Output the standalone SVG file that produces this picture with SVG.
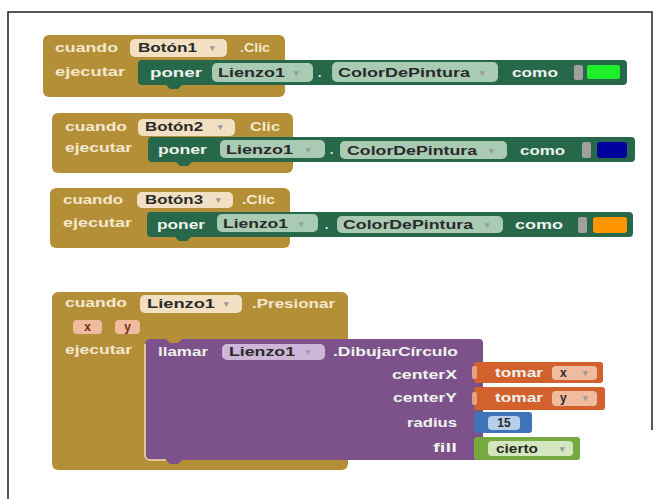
<svg xmlns="http://www.w3.org/2000/svg" width="660" height="499" viewBox="0 0 660 499">
<style>
text{font-family:"Liberation Sans",Arial,sans-serif;font-size:12px;font-weight:bold}
.ev{fill:#b48f38}
.set{fill:#28684a}
.pur{fill:#7d5189}
.org{fill:#d2612e}
.blu{fill:#3f72b6}
.lgc{fill:#76aa40}
.lt{fill:#f4e8cc}
.wt{fill:#eef3ee}
.dk{fill:#2a2a2a}
.arw{fill:#9a9a9a;font-size:9px}
.fo{fill:#f3e0c2}
.fg{fill:#a9cbb4}
.fp{fill:#cdb6d8}
.fr{fill:#f1bb9f}
.fb{fill:#b8cfe9}
.fl{fill:#d3e6bd}
.nub{fill:#a0a0a0}
.frame{fill:none;stroke:#222;stroke-width:1.5}
</style>
<path class="frame" d="M8,499 V12 H652 V430"/>

<g id="block1">
<rect class="ev" x="43" y="35" width="242" height="62" rx="6"/>
<text class="lt" x="55" y="52" textLength="63" lengthAdjust="spacingAndGlyphs">cuando</text>
<rect class="fo" x="130" y="39" width="97" height="18" rx="5"/>
<text class="dk" x="138" y="52" textLength="59" lengthAdjust="spacingAndGlyphs">Botón1</text>
<text class="arw" x="210" y="51">▾</text>
<text class="lt" x="240" y="52" textLength="30" lengthAdjust="spacingAndGlyphs">.Clic</text>
<text class="lt" x="55" y="76" textLength="70" lengthAdjust="spacingAndGlyphs">ejecutar</text>
<path class="set" d="M142,60 H623 a4,4 0 0 1 4,4 V81 a4,4 0 0 1 -4,4 H182 l-4,4 h-8 l-4,-4 H142 a4,4 0 0 1 -4,-4 V64 a4,4 0 0 1 4,-4 Z"/>
<text class="wt" x="150" y="77" textLength="52" lengthAdjust="spacingAndGlyphs">poner</text>
<rect class="fg" x="212" y="63" width="101" height="19" rx="5"/>
<text class="dk" x="218" y="77" textLength="67" lengthAdjust="spacingAndGlyphs">Lienzo1</text>
<text class="arw" x="294" y="76">▾</text>
<text class="wt" x="318" y="77">.</text>
<rect class="fg" x="332" y="62" width="166" height="20" rx="5"/>
<text class="dk" x="338" y="77" textLength="132" lengthAdjust="spacingAndGlyphs">ColorDePintura</text>
<text class="arw" x="480" y="76">▾</text>
<text class="wt" x="512" y="77" textLength="46" lengthAdjust="spacingAndGlyphs">como</text>
<rect class="nub" x="574" y="65" width="9" height="15" rx="2"/>
<rect x="587" y="65" width="33" height="14" rx="2" fill="#1fee2a"/>
</g>

<g id="block2">
<rect class="ev" x="52" y="113" width="241" height="60" rx="6"/>
<text class="lt" x="65" y="131" textLength="62" lengthAdjust="spacingAndGlyphs">cuando</text>
<rect class="fo" x="138" y="119" width="97" height="17" rx="5"/>
<text class="dk" x="145" y="131" textLength="58" lengthAdjust="spacingAndGlyphs">Botón2</text>
<text class="arw" x="218" y="130">▾</text>
<text class="lt" x="250" y="131" textLength="30" lengthAdjust="spacingAndGlyphs">Clic</text>
<text class="lt" x="65" y="152" textLength="67" lengthAdjust="spacingAndGlyphs">ejecutar</text>
<path class="set" d="M152,137 H631 a4,4 0 0 1 4,4 V158 a4,4 0 0 1 -4,4 H192 l-4,4 h-8 l-4,-4 H152 a4,4 0 0 1 -4,-4 V141 a4,4 0 0 1 4,-4 Z"/>
<text class="wt" x="158" y="154" textLength="49" lengthAdjust="spacingAndGlyphs">poner</text>
<rect class="fg" x="220" y="140" width="105" height="18" rx="5"/>
<text class="dk" x="226" y="154" textLength="67" lengthAdjust="spacingAndGlyphs">Lienzo1</text>
<text class="arw" x="306" y="153">▾</text>
<text class="wt" x="330" y="154">.</text>
<rect class="fg" x="340" y="141" width="167" height="18" rx="5"/>
<text class="dk" x="347" y="155" textLength="130" lengthAdjust="spacingAndGlyphs">ColorDePintura</text>
<text class="arw" x="489" y="154">▾</text>
<text class="wt" x="520" y="155" textLength="45" lengthAdjust="spacingAndGlyphs">como</text>
<rect class="nub" x="582" y="142" width="9" height="16" rx="2"/>
<rect x="597" y="142" width="30" height="16" rx="3" fill="#0000a0"/>
</g>

<g id="block3">
<rect class="ev" x="50" y="188" width="240" height="60" rx="6"/>
<text class="lt" x="63" y="204" textLength="60" lengthAdjust="spacingAndGlyphs">cuando</text>
<rect class="fo" x="137" y="192" width="96" height="16" rx="5"/>
<text class="dk" x="145" y="204" textLength="58" lengthAdjust="spacingAndGlyphs">Botón3</text>
<text class="arw" x="216" y="203">▾</text>
<text class="lt" x="242" y="204" textLength="33" lengthAdjust="spacingAndGlyphs">.Clic</text>
<text class="lt" x="63" y="227" textLength="69" lengthAdjust="spacingAndGlyphs">ejecutar</text>
<path class="set" d="M151,212 H629 a4,4 0 0 1 4,4 V233 a4,4 0 0 1 -4,4 H191 l-4,4 h-8 l-4,-4 H151 a4,4 0 0 1 -4,-4 V216 a4,4 0 0 1 4,-4 Z"/>
<text class="wt" x="157" y="229" textLength="48" lengthAdjust="spacingAndGlyphs">poner</text>
<rect class="fg" x="217" y="214" width="101" height="18" rx="5"/>
<text class="dk" x="223" y="228" textLength="65" lengthAdjust="spacingAndGlyphs">Lienzo1</text>
<text class="arw" x="299" y="227">▾</text>
<text class="wt" x="325" y="229">.</text>
<rect class="fg" x="337" y="216" width="166" height="17" rx="5"/>
<text class="dk" x="343" y="229" textLength="130" lengthAdjust="spacingAndGlyphs">ColorDePintura</text>
<text class="arw" x="485" y="228">▾</text>
<text class="wt" x="515" y="229" textLength="48" lengthAdjust="spacingAndGlyphs">como</text>
<rect class="nub" x="578" y="217" width="9" height="16" rx="2"/>
<rect x="593" y="217" width="34" height="16" rx="3" fill="#ff9500"/>
</g>

<g id="block4">
<rect class="ev" x="52" y="292" width="296" height="178" rx="6"/>
<text class="lt" x="65" y="307" textLength="62" lengthAdjust="spacingAndGlyphs">cuando</text>
<rect class="fo" x="140" y="295" width="102" height="18" rx="5"/>
<text class="dk" x="147" y="308" textLength="68" lengthAdjust="spacingAndGlyphs">Lienzo1</text>
<text class="arw" x="224" y="307">▾</text>
<text class="lt" x="252" y="308" textLength="83" lengthAdjust="spacingAndGlyphs">.Presionar</text>
<rect class="fr" x="73" y="320" width="29" height="14" rx="4"/>
<text x="87.5" y="331" text-anchor="middle" fill="#7a2a1a">x</text>
<rect class="fr" x="115" y="320" width="25" height="14" rx="4"/>
<text x="127.5" y="331" text-anchor="middle" fill="#7a2a1a">y</text>
<text class="lt" x="65" y="354" textLength="67" lengthAdjust="spacingAndGlyphs">ejecutar</text>
</g>

<g id="llamar">
<path class="pur" d="M150,339 H166 l4,4 h8 l4,-4 H479 a4,4 0 0 1 4,4 V456 a4,4 0 0 1 -4,4 H182 l-4,4 h-8 l-4,-4 H150 a5,5 0 0 1 -5,-5 V344 a5,5 0 0 1 5,-5 Z"/>
<path d="M145,344 V455 a5,5 0 0 0 5,5 H166" fill="none" stroke="#f2dcae" stroke-width="1.5"/>
<text class="wt" x="158" y="356" textLength="50" lengthAdjust="spacingAndGlyphs">llamar</text>
<rect class="fp" x="222" y="344" width="103" height="16" rx="5"/>
<text class="dk" x="229" y="356" textLength="66" lengthAdjust="spacingAndGlyphs">Lienzo1</text>
<text class="arw" x="306" y="355">▾</text>
<text class="wt" x="333" y="356" textLength="125" lengthAdjust="spacingAndGlyphs">.DibujarCírculo</text>
<text class="wt" x="457" y="379" text-anchor="end" textLength="65" lengthAdjust="spacingAndGlyphs">centerX</text>
<text class="wt" x="457" y="402" text-anchor="end" textLength="64" lengthAdjust="spacingAndGlyphs">centerY</text>
<text class="wt" x="457" y="427" text-anchor="end" textLength="50" lengthAdjust="spacingAndGlyphs">radius</text>
<text class="wt" x="457" y="452" text-anchor="end" textLength="24" lengthAdjust="spacingAndGlyphs">fill</text>
</g>

<g id="tomarX">
<rect class="org" x="474" y="362" width="129" height="21" rx="3"/>
<rect x="472" y="366" width="5" height="13" rx="2" fill="#e7a27c"/>
<text class="wt" x="495" y="377" textLength="48" lengthAdjust="spacingAndGlyphs">tomar</text>
<rect class="fr" x="552" y="366" width="45" height="14" rx="4"/>
<text class="dk" x="560" y="377">x</text>
<text class="arw" x="583" y="376">▾</text>
</g>

<g id="tomarY">
<rect class="org" x="474" y="387" width="131" height="23" rx="3"/>
<rect x="472" y="392" width="5" height="13" rx="2" fill="#e7a27c"/>
<text class="wt" x="495" y="402" textLength="48" lengthAdjust="spacingAndGlyphs">tomar</text>
<rect class="fr" x="552" y="391" width="45" height="15" rx="4"/>
<text class="dk" x="560" y="402">y</text>
<text class="arw" x="583" y="401">▾</text>
</g>

<g id="radius15">
<rect class="blu" x="474" y="412" width="58" height="21" rx="3"/>
<rect class="fb" x="488" y="416" width="32" height="14" rx="4"/>
<text class="dk" x="504" y="427" text-anchor="middle">15</text>
</g>

<g id="cierto">
<rect class="lgc" x="474" y="437" width="106" height="23" rx="3"/>
<rect class="fl" x="488" y="441" width="85" height="15" rx="4"/>
<text class="dk" x="496" y="453" textLength="42" lengthAdjust="spacingAndGlyphs">cierto</text>
<text class="arw" x="560" y="452">▾</text>
</g>

<g id="connectors"></g>
</svg>
